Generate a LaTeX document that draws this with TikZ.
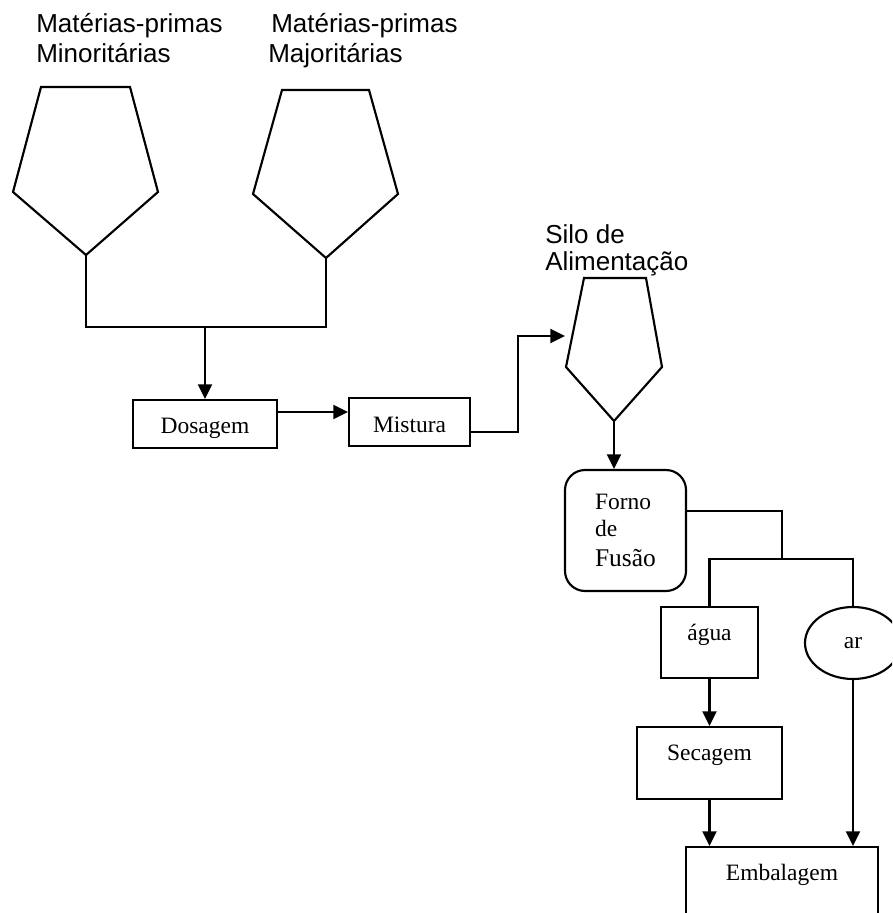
\documentclass[tikz,border=0pt]{standalone}
\usepackage{fontspec}
\setmainfont{Liberation Serif}
\setsansfont{Liberation Sans}
\usetikzlibrary{arrows.meta,shapes.geometric}

\tikzset{
  fluxo/.style={
    every node/.style={inner sep=0pt},
    linha/.style={line width=1.6pt},
    caixa/.style={draw,line width=1.6pt,font=\fontsize{17.6}{20.3}\selectfont},
    seta/.style={line width=1.6pt,-{Triangle[length=11pt,width=10.5pt]}},
    rotulo/.style={anchor=base west,font=\sffamily\fontsize{19.5}{23}\selectfont},
  }
}

\begin{document}
\begin{tikzpicture}[x=0.75pt, y=-0.75pt, fluxo]
            \clip (0,0) rectangle (892,913);
            \node[rotulo] (t1a) at (36,33)   {Matérias-primas};
            \node[rotulo] (t1b) at (36,63)   {Minoritárias};
            \node[rotulo] (t2a) at (271,33)  {Matérias-primas};
            \node[rotulo] (t2b) at (268,63)  {Majoritárias};
            \node[rotulo] (t3a) at (545,243) {Silo de};
            \node[rotulo] (t3b) at (545,270) {Alimentação};

            % funis
            \draw[linha] (41,87) -- (130,87) -- (158,192) -- (86,255) coordinate (f1) -- (13,192) -- cycle;
            \draw[linha] (282,90) -- (369,90) -- (398,194) -- (326,258) coordinate (f2) -- (253,194) -- cycle;
            \draw[linha] (584,278) -- (646,278) -- (662,367) -- (614,421) coordinate (f3) -- (566,367) -- cycle;

            \coordinate (j1) at (205,327);
            \coordinate (j2) at (518,336);
            \coordinate (s)  at (565,336);
            \coordinate (j3) at (782,559);

            \node[caixa, minimum width=108pt, text height=24.75pt, text depth=11.25pt] (dos) at (205,424) {Dosagem};
            \node[caixa, minimum width=90.75pt, text height=25.5pt, text depth=10.5pt] (mis) at (409.5,422) {Mistura};
            \node[caixa, rounded corners=15pt, minimum width=90.75pt, minimum height=90.75pt, align=left] (for) at (625.5,530.5)
                {Forno\\de\\[2.2pt]{\fontsize{19.1}{22.5}\selectfont Fusão}};
            \node[caixa, minimum width=72.75pt, text height=24.75pt, text depth=28.5pt] (agu) at (709.5,642.5) {água};
            \node[caixa, ellipse, minimum width=72pt, minimum height=54pt] (ar) at (853,643) {ar};
            \node[caixa, minimum width=108.75pt, text height=24.75pt, text depth=29.25pt] (sec) at (709.5,763) {Secagem};
            \node[caixa, minimum width=144pt, text height=24.75pt, text depth=37.5pt] (emb) at (782,888.5) {Embalagem};

            \draw[linha] (f1) |- (j1) -| (f2);
            \draw[seta] (j1) -- (dos);
            \draw[seta] ([yshift=9pt]dos.east) -- ([yshift=9pt]dos.east -| mis.west);
            \draw[seta] ([yshift=-7.5pt]mis.east) -| (j2) -- (s);
            \draw[seta] (f3) -- (f3 |- for.north);

            \draw[linha] ([yshift=14.6pt]for.east) -| (j3);
            \draw[linha] (agu.north) |- (j3) -| (ar.north);

            \draw[seta] (agu) -- (sec);
            \draw[seta] (sec.south) -- (sec.south |- emb.north);
            \draw[seta] (ar.south) -- (ar.south |- emb.north);
        \end{tikzpicture}
\end{document}
